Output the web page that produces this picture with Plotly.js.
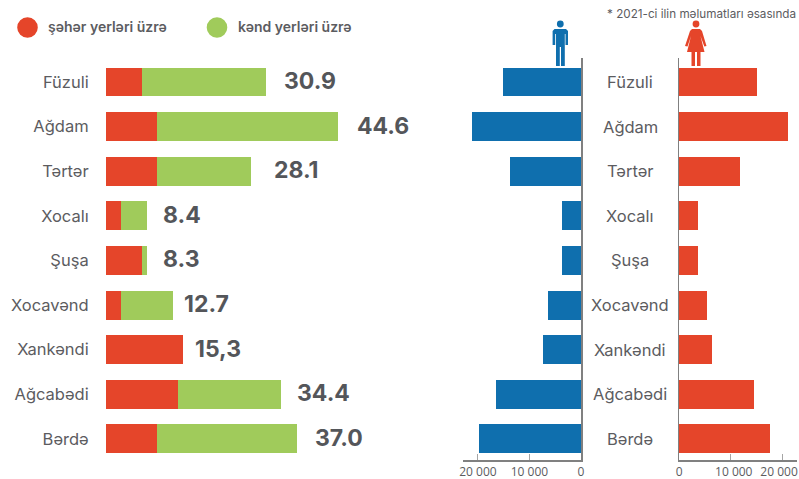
<!DOCTYPE html>
<html>
<head>
<meta charset="utf-8">
<script src="https://cdn.plot.ly/plotly-3.0.1.min.js"></script>
<style>html,body{margin:0;padding:0;background:#fff}#c{width:799px;height:479px}</style>
</head>
<body>
<div id="c"></div>
<script>
const categories = ["Füzuli","Ağdam","Tərtər","Xocalı","Şuşa","Xocavənd","Xankəndi","Ağcabədi","Bərdə"];
const urban = [6.9,9.8,9.8,2.9,6.9,2.9,14.9,13.8,9.8];
const rural = [23.9,34.8,18.0,5.0,1.0,10.0,0,19.9,26.9];
const totalLabels = ["30.9","44.6","28.1","8.4","8.3","12.7","15,3","34.4","37.0"];
const male = [15100,21100,13800,3750,3700,6500,7400,16500,19700];
const female = [15200,21200,11850,3600,3600,5400,6350,14600,17700];
const popTickVals = [0,10000,20000];
const malePopTickText = ["0","10 000","20 000"];
const femalePopTickText = ["\u00a0\u00a00","\u00a0\u00a0\u00a0\u00a010 000","20 000"];
const legendNames = ["şəhər yerləri üzrə","kənd yerləri üzrə"];
const footnote = "* 2021-ci ilin məlumatları əsasında";

const W = 799, H = 479;
const RED = "#E5452A", GREEN = "#A0CB5B", BLUE = "#0F6FAE", TXT = "#5c5c5f", VAL = "#54565A", AXIS = "#808080";
const FONT = 'Inter, "Open Sans", sans-serif';
const TICKFONT = {family:'"Open Sans", sans-serif', size:12, color:TXT};
const px = x => x / W, py = y => 1 - y / H;
const yDomain = [py(460), py(58)];
const yRange = [8.475, -0.538];
const barOpts = {type:"bar", orientation:"h", width:0.65, hoverinfo:"skip"};

const traces = [
  {...barOpts, name:legendNames[0], y:categories, x:urban, marker:{color:RED}, xaxis:"x", yaxis:"y"},
  {...barOpts, name:legendNames[1], y:categories, x:rural, marker:{color:GREEN}, xaxis:"x", yaxis:"y"},
  {...barOpts, name:"kişi", y:categories, x:male, marker:{color:BLUE}, xaxis:"x2", yaxis:"y2"},
  {...barOpts, name:"qadın", y:categories, x:female, marker:{color:RED}, xaxis:"x3", yaxis:"y3"}
];

const labelGap = [16,17,21,14,14,9,10,14,16];
const annotations = [];
categories.forEach((c,i) => {
  annotations.push({xref:"x", yref:"y", x:urban[i]+rural[i], y:c, text:totalLabels[i], showarrow:false,
    xanchor:"left", yanchor:"middle", xshift:labelGap[i], yshift:1, font:{family:FONT, size:23, color:VAL, weight:700}});
  annotations.push({xref:"paper", yref:"y", x:px(630), y:c, text:c, showarrow:false,
    xanchor:"center", yanchor:"middle", font:{family:FONT, size:16.5, color:TXT}});
});
annotations.push(
  {xref:"paper", yref:"paper", x:px(46), y:py(27), text:legendNames[0], showarrow:false, xanchor:"left", yanchor:"middle",
    font:{family:FONT, size:14, color:TXT, weight:600}},
  {xref:"paper", yref:"paper", x:px(236), y:py(27), text:legendNames[1], showarrow:false, xanchor:"left", yanchor:"middle",
    font:{family:FONT, size:14, color:TXT, weight:600}},
  {xref:"paper", yref:"paper", x:px(605), y:py(14), text:footnote, showarrow:false, xanchor:"left", yanchor:"middle",
    font:{family:FONT, size:11.7, color:TXT}}
);

// decorative pictograms and legend dots, placed in page pixels
const poly = pts => "M " + pts.map(p => `${px(p[0])},${py(p[1])}`).join(" L ") + " Z";
const circle = (cx,cy,r,color) => ({type:"circle", xref:"paper", yref:"paper", x0:px(cx-r), x1:px(cx+r), y0:py(cy+r), y1:py(cy-r), fillcolor:color, line:{width:0}});
const fill = (pts,color) => ({type:"path", xref:"paper", yref:"paper", path:poly(pts), fillcolor:color, line:{width:0}});

const shapes = [
  circle(27.5,27.5,10.3,RED),
  circle(217,27.5,10.3,GREEN),
  circle(560.3,24,3.4,BLUE),
  fill([[554.5,29],[566,29],[568,31],[568,45],[565.5,45],[565.5,34],[564.8,34],[564.8,66],[561,66],[561,47],[559.8,47],[559.8,66],[556,66],[556,34],[555.2,34],[555.2,45],[552.6,45],[552.6,31]],BLUE),
  circle(696,24,3.4,RED),
  fill([[692,29],[700,29],[702,31],[706.5,46],[704.3,46.5],[700.5,36],[704.5,52],[700.5,52],[700.5,66],[697,66],[697,52],[695,52],[695,66],[691.5,66],[691.5,52],[687,52],[691,36],[687.5,46.5],[685,46],[690,31]],RED)
];

const layout = {
  width:W, height:H, margin:{l:0,r:0,t:0,b:0}, paper_bgcolor:"#fff", plot_bgcolor:"#fff",
  barmode:"stack", showlegend:false, hovermode:false,
  xaxis:{domain:[px(106),px(420)], range:[0,314/5.2], visible:false, fixedrange:true},
  yaxis:{domain:yDomain, anchor:"x", type:"category", categoryorder:"array", categoryarray:categories, range:yRange,
    showgrid:false, zeroline:false, showline:false, ticks:"outside", ticklen:13, tickcolor:"rgba(0,0,0,0)",
    tickfont:{family:FONT, size:16.5, color:TXT}},
  xaxis2:{domain:[px(463),px(581)], range:[22900,0], anchor:"y2", showgrid:false, zeroline:false, showline:true,
    linecolor:AXIS, linewidth:1.5, ticks:"inside", ticklen:6, tickcolor:"#a5a5a5", tickvals:popTickVals, ticktext:malePopTickText,
    tickfont:TICKFONT, ticklabeloverflow:"allow"},
  yaxis2:{domain:yDomain, anchor:"x2", side:"right", type:"category", categoryorder:"array", categoryarray:categories, range:yRange,
    showgrid:false, zeroline:false, showline:true, linecolor:AXIS, linewidth:1.5, showticklabels:false, ticks:""},
  xaxis3:{domain:[px(679),px(797)], range:[0,22900], anchor:"y3", showgrid:false, zeroline:false, showline:true,
    linecolor:AXIS, linewidth:1.5, ticks:"inside", ticklen:6, tickcolor:"#a5a5a5", tickvals:popTickVals, ticktext:femalePopTickText,
    tickfont:TICKFONT, ticklabeloverflow:"allow", ticklabelshift:-3},
  yaxis3:{domain:yDomain, anchor:"x3", type:"category", categoryorder:"array", categoryarray:categories, range:yRange,
    showgrid:false, zeroline:false, showline:true, linecolor:AXIS, linewidth:1.5, showticklabels:false, ticks:""},
  annotations, shapes
};
Plotly.newPlot("c", traces, layout, {displayModeBar:false, staticPlot:true});
</script>
</body>
</html>
